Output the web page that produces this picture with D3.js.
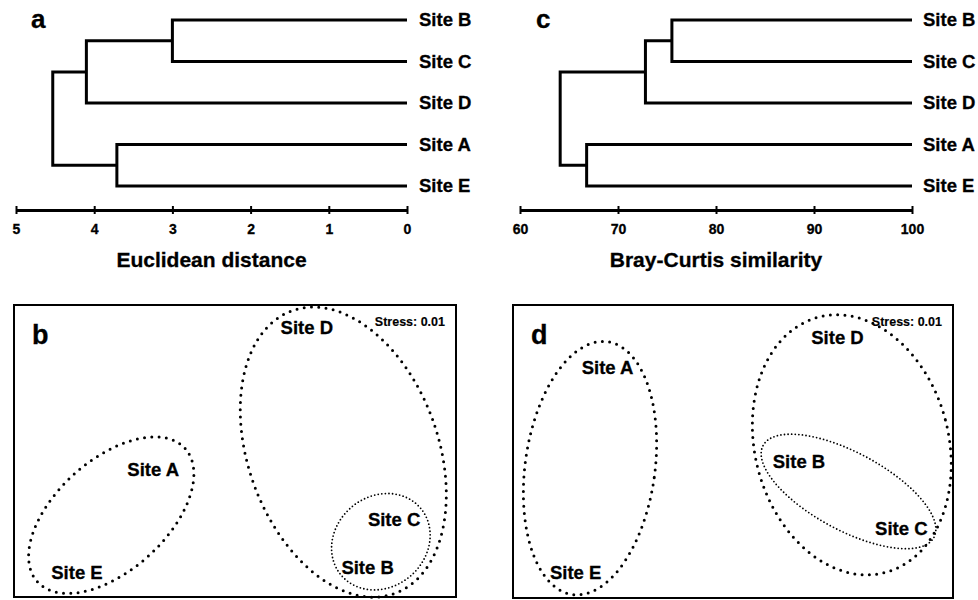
<!DOCTYPE html>
<html>
<head>
<meta charset="utf-8">
<script src="https://cdn.jsdelivr.net/npm/d3@7"></script>
<style>
  body { margin: 0; background: #fff; }
  text { font-family: Arial, "Liberation Sans", sans-serif; font-weight: bold; fill: #000; stroke: #000; stroke-width: 0.3px; }
</style>
</head>
<body>
<svg id="chart" width="978" height="600"></svg>
<script>
// dendrogram leaves, top to bottom
const sites = ["Site B", "Site C", "Site D", "Site A", "Site E"];
// hclust style merge table: negative = leaf (1-based), positive = earlier merge
const merges = [[-1, -2], [1, -3], [-4, -5], [2, 3]];
const euclidHeights = [3.0, 4.1, 3.71, 4.53];
const brayHeights = [75.5, 72.8, 66.8, 64.1];
const euclidTicks = [5, 4, 3, 2, 1, 0];
const brayTicks = [60, 70, 80, 90, 100];

// nMDS site scores
const nmdsNames = ["Site A", "Site B", "Site C", "Site D", "Site E"];
const euclidX = [-0.74, 1.20, 1.44, 0.65, -1.43];
const euclidY = [-0.17, -1.05, -0.62, 1.12, -1.10];
const brayX = [-1.14, 0.60, 1.53, 0.95, -1.43];
const brayY = [0.76, -0.09, -0.69, 1.03, -1.09];

// cluster ellipses on the nMDS: centre, radii, angle (deg), heavy dots or not
const groups = ["A+E", "D", "B+C"];
const euclidEll = [
  [-1.12, -0.58, 0.90, 0.50, 42, true],
  [0.98, -0.01, 0.86, 1.36, 20, true],
  [1.32, -0.82, 0.47, 0.41, 40, false]
];
const brayEll = [
  [-1.30, -0.15, 0.59, 1.15, -8, true],
  [1.08, 0.06, 0.88, 1.19, 15, true],
  [1.05, -0.36, 0.88, 0.35, -28, false]
];
const stress = "Stress: 0.01";

const svg = d3.select("#chart");

function dendro(heights, domain, ticks, range, title, letter, labelX) {
  const g = svg.append("g");
  const x = d3.scaleLinear().domain(domain).range(range);
  const y = d3.scalePoint().domain(sites).range([20, 186]);
  const nodes = [];
  const pos = idx => idx < 0 ? { h: domain[1], y: y(sites[-idx - 1]) } : nodes[idx - 1];

  merges.forEach((m, i) => {
    const a = pos(m[0]), b = pos(m[1]), h = heights[i];
    g.append("path")
      .attr("d", `M${x(a.h)},${a.y}H${x(h)}V${b.y}H${x(b.h)}`)
      .attr("fill", "none")
      .attr("stroke", "#000")
      .attr("stroke-width", 3);
    nodes.push({ h: h, y: (a.y + b.y) / 2 });
  });

  g.selectAll(".leaf").data(sites).enter().append("text")
    .attr("x", x(domain[1]) + labelX)
    .attr("y", d => y(d))
    .attr("dy", "0.35em")
    .style("font-size", "18.5px")
    .text(d => d);

  const ax = g.append("g")
    .attr("transform", "translate(0,210)")
    .call(d3.axisBottom(x).tickValues(ticks).tickFormat(d3.format("d"))
      .tickSize(4).tickSizeOuter(0).tickPadding(10));
  ax.select(".domain").attr("stroke-width", 3);
  ax.selectAll(".tick line").attr("y1", -4).attr("stroke-width", 2);
  ax.selectAll(".tick text").style("font-size", "14px");
  ax.attr("font-family", null).attr("font-size", null);

  g.append("text")
    .attr("x", (range[0] + range[1]) / 2)
    .attr("y", 260)
    .attr("dy", "0.35em")
    .attr("text-anchor", "middle")
    .style("font-size", "21px")
    .text(title);

  g.append("text")
    .attr("x", letter[1])
    .attr("y", 28)
    .style("font-size", "26px")
    .text(letter[0]);
}

function nmds(xs, ys, ells, box, letter) {
  const g = svg.append("g");
  const x = d3.scaleLinear().domain([-2, 2]).range([box[0], box[1]]);
  const y = d3.scaleLinear().domain([-1.32, 1.32]).range([box[3], box[2]]);

  g.append("rect")
    .attr("x", box[0]).attr("y", box[2])
    .attr("width", box[1] - box[0]).attr("height", box[3] - box[2])
    .attr("fill", "none").attr("stroke", "#000").attr("stroke-width", 2);

  const line = d3.line().x(p => x(p[0])).y(p => y(p[1])).curve(d3.curveLinearClosed);
  ells.forEach((e, i) => {
    const [cx, cy, rx, ry, ang, heavy] = e;
    const th = ang * Math.PI / 180;
    const pts = d3.range(180).map(k => {
      const t = k / 180 * 2 * Math.PI;
      const dx = rx * Math.cos(t), dy = ry * Math.sin(t);
      return [cx + dx * Math.cos(th) - dy * Math.sin(th), cy + dx * Math.sin(th) + dy * Math.cos(th)];
    });
    g.append("path")
      .datum(pts)
      .attr("class", "ell " + groups[i])
      .attr("d", line)
      .attr("fill", "none")
      .attr("stroke", "#000")
      .attr("stroke-linecap", "round")
      .attr("stroke-width", heavy ? 3 : 1.8)
      .attr("stroke-dasharray", heavy ? "0 7.3" : "0 3.6");
  });

  g.selectAll(".site").data(nmdsNames).enter().append("text")
    .attr("x", (d, i) => x(xs[i]))
    .attr("y", (d, i) => y(ys[i]))
    .attr("dy", "0.35em")
    .attr("text-anchor", "middle")
    .style("font-size", "18.5px")
    .text(d => d);

  g.append("text")
    .attr("x", box[0] + 18)
    .attr("y", 344)
    .style("font-size", "27px")
    .text(letter);

  g.append("text")
    .attr("x", box[1] - 11)
    .attr("y", 326)
    .attr("text-anchor", "end")
    .style("font-size", "12.5px")
    .style("stroke-width", "0.15px")
    .text(stress);
}

dendro(euclidHeights, [5, 0], euclidTicks, [16, 407], "Euclidean distance", ["a", 31], 12);
dendro(brayHeights, [60, 100], brayTicks, [520, 912], "Bray-Curtis similarity", ["c", 536], 11);
nmds(euclidX, euclidY, euclidEll, [14, 456, 305, 597], "b");
nmds(brayX, brayY, brayEll, [513, 953, 305, 598], "d");
</script>
</body>
</html>
